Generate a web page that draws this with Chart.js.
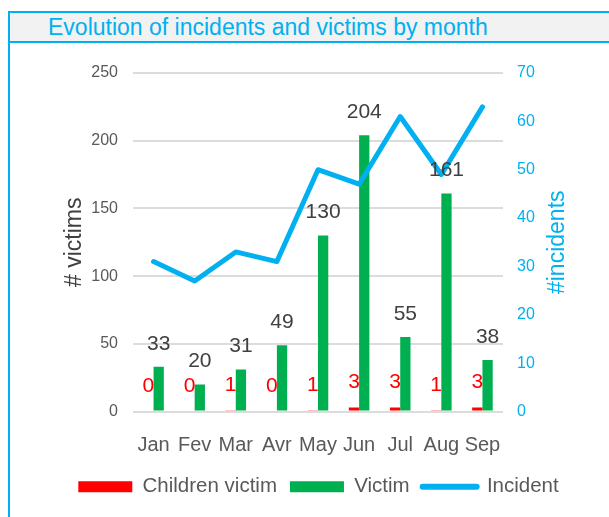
<!DOCTYPE html>
<html>
<head>
<meta charset="utf-8">
<script src="https://cdn.jsdelivr.net/npm/chart.js@4"></script>
<style>
  html, body { margin: 0; padding: 0; background: #fff; }
  body { width: 609px; height: 517px; overflow: hidden; position: relative; font-family: "Liberation Sans", Arial, sans-serif; }
  .frame { position: absolute; left: 8px; top: 11px; width: 640px; height: 540px; border-top: 2px solid #00b0f0; border-left: 2px solid #00b0f0; }
  .head { position: absolute; left: 0; top: 0; width: 100%; height: 30px; box-sizing: border-box; background: #f2f2f2; border-bottom: 2px solid #00b0f0; color: #00b0f0; font-size: 23px; line-height: 29px; padding-left: 38px; white-space: nowrap; }
  .plot { position: absolute; left: 10px; top: 45px; width: 599px; height: 472px; }
</style>
</head>
<body>
<div class="frame"><div class="head">Evolution of incidents and victims by month</div></div>
<div class="plot"><canvas id="chart"></canvas></div>
<script>
var months = ["Jan", "Fev", "Mar", "Avr", "May", "Jun", "Jul", "Aug", "Sep"];
var childrenVictims = [0, 0, 1, 0, 1, 3, 3, 1, 3];
var victims = [33, 20, 31, 49, 130, 204, 55, 161, 38];
var incidents = [31, 27, 33, 31, 50, 47, 61, 49, 63];

(function () {
  var blue = "#00b0f0",
    green = "#00b050",
    red = "#ff0000",
    txt = "#595959",
    dark = "#404040";

  Chart.defaults.font.family = "'Liberation Sans', Arial, sans-serif";

  // value labels above the bars
  var barLabels = {
    id: "barLabels",
    afterDatasetsDraw: function (chart) {
      var ctx = chart.ctx;
      ctx.save();
      ctx.font = "21px 'Liberation Sans', Arial, sans-serif";
      ctx.textAlign = "center";
      ctx.textBaseline = "middle";
      chart.data.datasets.forEach(function (ds, i) {
        if (ds.type !== "bar") return;
        chart.getDatasetMeta(i).data.forEach(function (bar, j) {
          ctx.fillStyle = ds.labelColor;
          ctx.fillText(ds.data[j], bar.x, bar.y - ds.labelGap);
        });
      });
      ctx.restore();
    },
  };

  // right axis title reads bottom-to-top
  var rightTitle = {
    id: "rightTitle",
    afterDraw: function (chart) {
      var s = chart.scales.y1,
        ctx = chart.ctx;
      ctx.save();
      ctx.translate(s.right - 51, (s.top + s.bottom) / 2);
      ctx.rotate(-Math.PI / 2);
      ctx.font = "23px 'Liberation Sans', Arial, sans-serif";
      ctx.fillStyle = blue;
      ctx.textAlign = "center";
      ctx.textBaseline = "middle";
      ctx.fillText("#incidents", 0, 0);
      ctx.restore();
    },
  };

  new Chart(document.getElementById("chart"), {
    type: "bar",
    data: {
      labels: months,
      datasets: [
        { type: "bar", label: "Children victim", data: childrenVictims, backgroundColor: red, yAxisID: "y", order: 1, labelColor: red, labelGap: 25 },
        { type: "bar", label: "Victim", data: victims, backgroundColor: green, yAxisID: "y", order: 1, labelColor: dark, labelGap: 23 },
        { type: "line", label: "Incident", data: incidents, borderColor: blue, backgroundColor: blue, borderWidth: 5, pointRadius: 0, tension: 0, fill: false, borderCapStyle: "round", borderJoinStyle: "round", yAxisID: "y1", order: 0 },
      ],
    },
    options: {
      responsive: true,
      maintainAspectRatio: false,
      animation: false,
      datasets: { bar: { categoryPercentage: 0.5, barPercentage: 1.0 } },
      layout: { padding: { left: 18, right: 0, top: 28, bottom: 10 } },
      plugins: {
        tooltip: { enabled: false },
        legend: {
          position: "bottom",
          labels: {
            color: txt,
            font: { size: 20.5 },
            usePointStyle: true,
            pointStyleWidth: 54,
            boxHeight: 11,
            padding: 13,
            generateLabels: function (chart) {
              return chart.data.datasets.map(function (ds, i) {
                var isLine = ds.type === "line";
                return {
                  text: ds.label,
                  datasetIndex: i,
                  fillStyle: ds.backgroundColor,
                  strokeStyle: isLine ? ds.borderColor : ds.backgroundColor,
                  lineWidth: isLine ? 6 : 0,
                  lineCap: "round",
                  pointStyle: isLine ? "line" : "rect",
                  fontColor: txt,
                  hidden: false,
                };
              });
            },
          },
        },
      },
      scales: {
        x: {
          grid: { display: false },
          border: { display: false },
          ticks: { color: txt, font: { size: 20 }, padding: 14, maxRotation: 0, autoSkip: false },
          afterFit: function (s) {
            s.height = 52;
          },
        },
        y: {
          position: "left",
          min: 0,
          max: 250,
          ticks: { stepSize: 50, color: txt, font: { size: 16 }, padding: 15 },
          grid: { color: "#dcdcdc", lineWidth: 2, drawTicks: false },
          border: { display: false },
          title: { display: true, text: "# victims", color: dark, font: { size: 23 }, padding: { top: 33, bottom: 0 } },
          afterFit: function (s) {
            s.width = 105;
          },
        },
        y1: {
          position: "right",
          min: 0,
          max: 70,
          ticks: { stepSize: 10, color: blue, font: { size: 16 }, padding: 14 },
          grid: { display: false, drawTicks: false },
          border: { display: false },
          afterFit: function (s) {
            s.width = 106;
          },
        },
      },
    },
    plugins: [barLabels, rightTitle],
  });
})();
</script>
</body>
</html>
